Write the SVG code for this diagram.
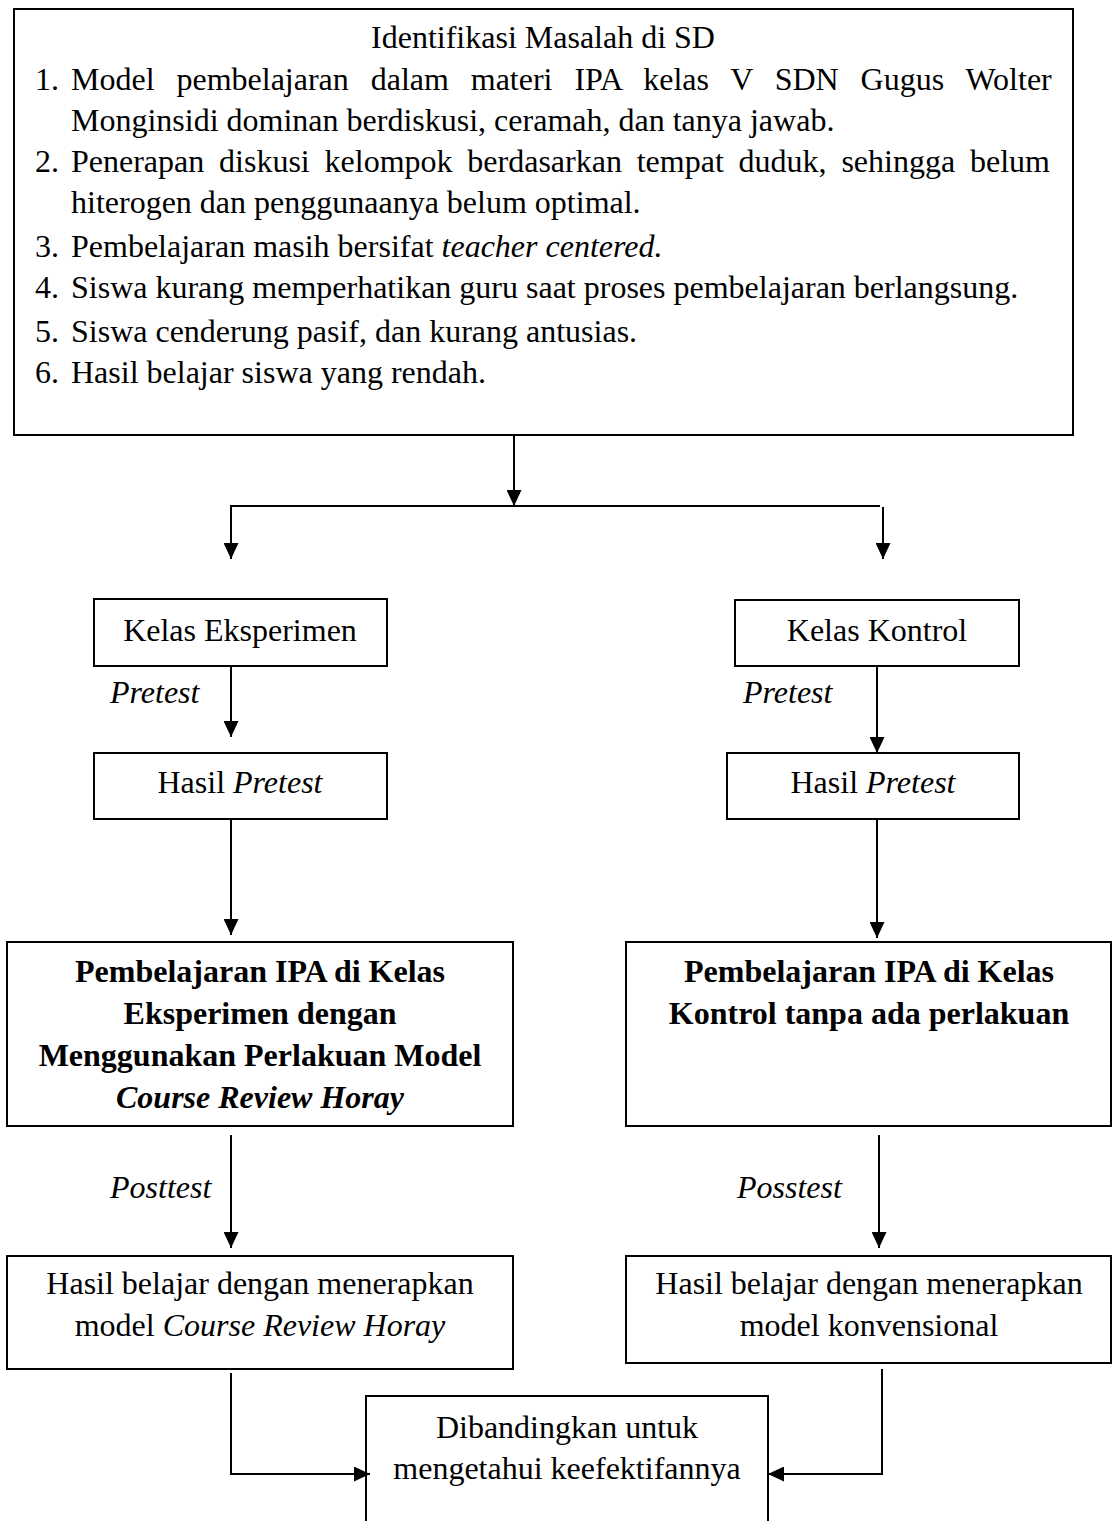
<svg xmlns="http://www.w3.org/2000/svg" width="1113" height="1521" viewBox="0 0 1113 1521">
<style>
.box{fill:#fff;stroke:#000;stroke-width:2}
.ln{fill:none;stroke:#000;stroke-width:2}
.arr{fill:none;stroke:#000;stroke-width:2;marker-end:url(#ah)}
text{font-family:"Liberation Serif","Times New Roman",serif;font-size:32px;fill:#000}
.c{text-anchor:middle}
.b{font-weight:bold}
.i{font-style:italic}
</style>
<defs>
<marker id="ah" markerUnits="userSpaceOnUse" viewBox="0 0 16 15" refX="16" refY="7.5" markerWidth="16" markerHeight="15" orient="auto">
<path d="M0,0 L16,7.5 L0,15 z" fill="#000"/>
</marker>
</defs>
<g id="identifikasi">
<rect class="box" x="14" y="9" width="1059" height="426"/>
<text class="c" x="543" y="48">Identifikasi Masalah di SD</text>
<text x="35" y="90">1.</text>
<text x="71" y="90" word-spacing="13.9">Model pembelajaran dalam materi IPA kelas V SDN Gugus Wolter</text>
<text x="71" y="131">Monginsidi dominan berdiskusi, ceramah, dan tanya jawab.</text>
<text x="35" y="172">2.</text>
<text x="71" y="172" word-spacing="6.8">Penerapan diskusi kelompok berdasarkan tempat duduk, sehingga belum</text>
<text x="71" y="213">hiterogen dan penggunaanya belum optimal.</text>
<text x="35" y="257">3.</text>
<text x="71" y="257">Pembelajaran masih bersifat <tspan class="i">teacher centered.</tspan></text>
<text x="35" y="298">4.</text>
<text x="71" y="298">Siswa kurang memperhatikan guru saat proses pembelajaran berlangsung.</text>
<text x="35" y="342">5.</text>
<text x="71" y="342">Siswa cenderung pasif, dan kurang antusias.</text>
<text x="35" y="383">6.</text>
<text x="71" y="383">Hasil belajar siswa yang rendah.</text>
</g>
<g id="kelas-eksperimen">
<rect class="box" x="94" y="599" width="293" height="67"/>
<text class="c" x="240" y="641">Kelas Eksperimen</text>
</g>
<g id="kelas-kontrol">
<rect class="box" x="735" y="600" width="284" height="66"/>
<text class="c" x="877" y="641">Kelas Kontrol</text>
</g>
<g id="hasil-pretest-eksperimen">
<rect class="box" x="94" y="753" width="293" height="66"/>
<text class="c" x="240" y="793">Hasil <tspan class="i">Pretest</tspan></text>
</g>
<g id="hasil-pretest-kontrol">
<rect class="box" x="727" y="753" width="292" height="66"/>
<text class="c" x="873" y="793">Hasil <tspan class="i">Pretest</tspan></text>
</g>
<g id="pembelajaran-eksperimen">
<rect class="box" x="7" y="942" width="506" height="184"/>
<text class="c b" x="260" y="982">Pembelajaran IPA di Kelas</text>
<text class="c b" x="260" y="1024">Eksperimen dengan</text>
<text class="c b" x="260" y="1066">Menggunakan Perlakuan Model</text>
<text class="c b i" x="260" y="1108">Course Review Horay</text>
</g>
<g id="pembelajaran-kontrol">
<rect class="box" x="626" y="942" width="485" height="184"/>
<text class="c b" x="869" y="982">Pembelajaran IPA di Kelas</text>
<text class="c b" x="869" y="1024">Kontrol tanpa ada perlakuan</text>
</g>
<g id="hasil-belajar-eksperimen">
<rect class="box" x="7" y="1256" width="506" height="113"/>
<text class="c" x="260" y="1294">Hasil belajar dengan menerapkan</text>
<text class="c" x="260" y="1336">model <tspan class="i">Course Review Horay</tspan></text>
</g>
<g id="hasil-belajar-kontrol">
<rect class="box" x="626" y="1256" width="485" height="107"/>
<text class="c" x="869" y="1294">Hasil belajar dengan menerapkan</text>
<text class="c" x="869" y="1336">model konvensional</text>
</g>
<g id="dibandingkan">
<path class="ln" d="M366,1522 V1396 H768 V1522"/>
<text class="c" x="567" y="1438">Dibandingkan untuk</text>
<text class="c" x="567" y="1479">mengetahui keefektifannya</text>
</g>
<g id="connectors">
<line class="arr" x1="514" y1="435" x2="514" y2="506"/>
<line class="ln" x1="230" y1="506" x2="880" y2="506"/>
<line class="arr" x1="231" y1="507" x2="231" y2="559"/>
<line class="arr" x1="883" y1="507" x2="883" y2="559"/>
<line class="arr" x1="231" y1="666" x2="231" y2="737"/>
<line class="arr" x1="877" y1="666" x2="877" y2="753"/>
<line class="arr" x1="231" y1="819" x2="231" y2="935"/>
<line class="arr" x1="877" y1="819" x2="877" y2="938"/>
<line class="arr" x1="231" y1="1135" x2="231" y2="1248"/>
<line class="arr" x1="879" y1="1135" x2="879" y2="1248"/>
<path class="arr" d="M231,1373 V1474 H370"/>
<path class="arr" d="M882,1369 V1474 H768"/>
<text class="i" x="110" y="703">Pretest</text>
<text class="i" x="743" y="703">Pretest</text>
<text class="i" x="110" y="1198">Posttest</text>
<text class="i" x="737" y="1198">Posstest</text>
</g>
</svg>
